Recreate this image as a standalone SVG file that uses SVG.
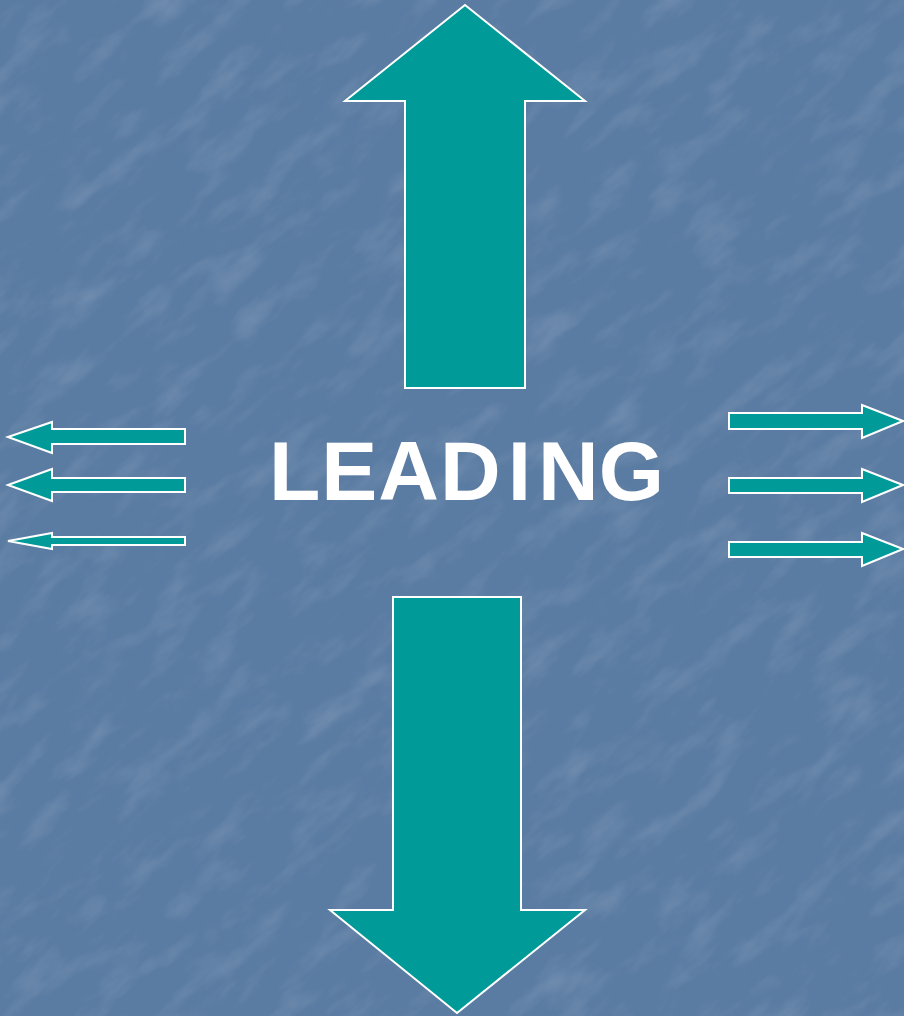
<svg xmlns="http://www.w3.org/2000/svg" width="904" height="1016" viewBox="0 0 904 1016">
<style>
.arrow{fill:#009a98;stroke:#ffffff;stroke-width:2;stroke-linejoin:miter}
.label{font-family:"Liberation Sans",Arial,sans-serif;font-weight:bold;font-size:84px;fill:#ffffff}
</style>
<defs>
<filter id="tex" x="0" y="0" width="100%" height="100%">
<feTurbulence type="fractalNoise" baseFrequency="0.015 0.04" numOctaves="4" seed="7" result="n"/>
<feColorMatrix in="n" type="matrix" values="0 0 0 0 1  0 0 0 0 1  0 0 0 0 1  0 0 0 0.9 -0.42" result="w"/>
<feComposite in="w" in2="SourceGraphic" operator="in"/>
</filter>
</defs>
<rect width="904" height="1016" fill="#5a7ba2"/>
<g transform="rotate(-40 452 508)" opacity="0.3">
<rect x="-400" y="-400" width="1704" height="1816" fill="#5a7ba2" filter="url(#tex)"/>
</g>
<g id="up-arrow"><polygon class="arrow" points="465,5 585,101 525,101 525,388 405,388 405,101 345,101"/></g>
<g id="down-arrow"><polygon class="arrow" points="393,597 521,597 521,910 585,910 457,1013 330,910 393,910"/></g>
<g id="left-arrow-1"><polygon class="arrow" points="8,437 52,422 52,429 185,429 185,444 52,444 52,453"/></g>
<g id="left-arrow-2"><polygon class="arrow" points="8,485 52,469 52,478 185,478 185,492 52,492 52,501"/></g>
<g id="left-arrow-3"><polygon class="arrow" points="8,541 52,533 52,537 185,537 185,545 52,545 52,549"/></g>
<g id="right-arrow-1"><polygon class="arrow" points="729,413 862,413 862,405 903,421 862,438 862,429 729,429"/></g>
<g id="right-arrow-2"><polygon class="arrow" points="729,478 862,478 862,469 903,485 862,502 862,493 729,493"/></g>
<g id="right-arrow-3"><polygon class="arrow" points="729,542 862,542 862,533 903,549 862,566 862,557 729,557"/></g>
<g id="label"><text class="label" x="269" y="500" dx="0 1 1 1 7 7 0">LEADING</text></g>
</svg>
